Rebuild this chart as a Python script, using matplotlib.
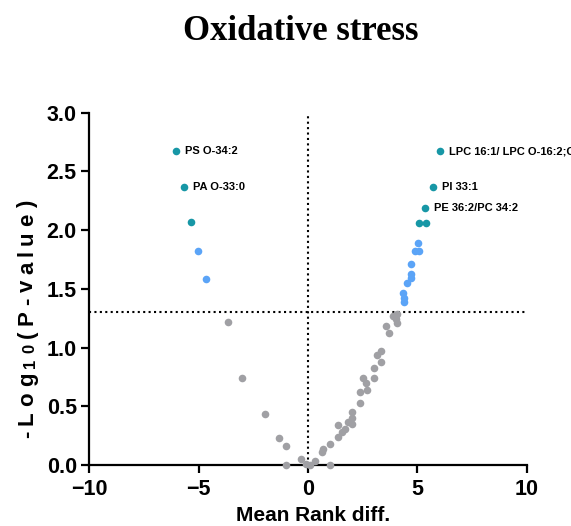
import matplotlib
matplotlib.use("Agg")
import matplotlib.pyplot as plt
import numpy as np

# Volcano plot data: mean rank difference vs -log10(p)
gray_x = [-3.66, -3.00, -1.98, -1.34, -0.99, -0.99, -0.33, -0.10, 0.08, 0.31,
          0.99, 0.66, 0.69, 0.99, 1.37, 1.37, 1.55, 1.68, 1.85, 2.03,
          2.03, 2.03, 2.36, 2.40, 2.52, 2.66, 2.70, 3.02, 3.02, 3.16,
          3.36, 3.36, 3.55, 3.70, 3.89, 4.01, 4.07, 4.03, 4.05]
gray_y = [1.22, 0.74, 0.43, 0.23, 0.16, 0.00, 0.05, 0.01, 0.00, 0.03,
          0.00, 0.11, 0.14, 0.18, 0.24, 0.34, 0.28, 0.31, 0.37, 0.45,
          0.35, 0.40, 0.53, 0.62, 0.74, 0.70, 0.64, 0.74, 0.83, 0.94,
          0.97, 0.88, 1.18, 1.12, 1.27, 1.28, 1.21, 1.24, 1.29]

blue_x = [-5.01, -4.68, 5.03, 4.88, 5.07, 4.73, 4.73, 4.70, 4.53, 4.34, 4.38, 4.38]
blue_y = [1.825, 1.587, 1.89, 1.822, 1.822, 1.71, 1.627, 1.59, 1.553, 1.463, 1.42, 1.39]

teal_x = [-6.02, -5.67, -5.33, 6.05, 5.72, 5.37, 5.06, 5.38]
teal_y = [2.67, 2.365, 2.067, 2.67, 2.365, 2.19, 2.064, 2.064]
teal_labels = ["PS O-34:2", "PA O-33:0", "", "LPC 16:1/ LPC O-16:2;O",
               "PI 33:1", "PE 36:2/PC 34:2", "", ""]

x_ticks = [-10, -5, 0, 5, 10]
y_ticks = [0.0, 0.5, 1.0, 1.5, 2.0, 2.5, 3.0]
p_threshold = 1.3

GRAY = "#A0A0A4"
BLUE = "#5BA4F7"
TEAL = "#1797A6"

plt.rcParams["font.family"] = ["Liberation Sans", "DejaVu Sans"]

fig = plt.figure(figsize=(5.71, 5.26), dpi=100)
ax = fig.add_axes([0.1564, 0.116, 0.766, 0.6697])

ax.set_xlim(-10, 10)
ax.set_ylim(0, 3)

dot = (0, (1, 1.6))
ax.axvline(0, color="black", lw=1.5, ls=dot, zorder=1)
ax.axhline(p_threshold, color="black", lw=1.5, ls=dot, zorder=1)

ms = 30
ax.scatter(gray_x, gray_y, s=ms, color=GRAY, lw=0, zorder=3, clip_on=False)
ax.scatter(blue_x, blue_y, s=ms, color=BLUE, lw=0, zorder=3, clip_on=False)
ax.scatter(teal_x, teal_y, s=ms, color=TEAL, lw=0, zorder=3, clip_on=False)

for x, y, lab in zip(teal_x, teal_y, teal_labels):
    if lab:
        ax.annotate(lab, (x, y), xytext=(6.5, 0), textcoords="offset points",
                    ha="left", va="center", fontsize=8, fontweight="bold",
                    color="black", annotation_clip=False, clip_on=False)

for side in ("top", "right"):
    ax.spines[side].set_visible(False)
for side in ("left", "bottom"):
    ax.spines[side].set_linewidth(1.6)

ax.set_xticks(x_ticks)
ax.set_yticks(y_ticks)
ax.set_yticklabels([f"{v:.1f}" for v in y_ticks])
ax.tick_params(axis="both", length=6, width=1.6, labelsize=15.5, pad=3)
ax.tick_params(axis="x", pad=4)
for t in ax.get_xticklabels() + ax.get_yticklabels():
    t.set_fontweight("bold")

# x axis title
fig.text(0.548, 0.010, "Mean Rank diff.", ha="center", va="baseline",
         fontsize=15, fontweight="bold")

# plot title
fig.text(0.527, 0.924, "Oxidative stress", ha="center", va="baseline",
         fontsize=25, fontweight="bold", family=["Liberation Serif", "DejaVu Serif"])

# letter-spaced rotated y axis title, built glyph by glyph
renderer = fig.canvas.get_renderer()
glyphs = [("-", 16, 0), ("L", 16, 0), ("o", 16, 0), ("g", 16, 0),
          ("1", 12, 1.5), ("0", 12, 1.5), ("(", 16, 0), ("P", 16, 0),
          ("-", 16, 0), ("v", 16, 0), ("a", 16, 0), ("l", 16, 0),
          ("u", 16, 0), ("e", 16, 0), (")", 16, 0)]
widths = []
for ch, size, _ in glyphs:
    t = fig.text(0, 0, ch, fontsize=size, fontweight="bold")
    widths.append(t.get_window_extent(renderer).width)
    t.remove()
gap = 5.5
W, H = fig.bbox.width, fig.bbox.height
total = sum(widths) + gap * (len(glyphs) - 1)
center_y = H - 319.0
base_x = 33.0
y = center_y - total / 2
for (ch, size, shift), w in zip(glyphs, widths):
    fig.text((base_x + shift) / W, y / H, ch, fontsize=size, fontweight="bold",
             rotation=90, rotation_mode="anchor", ha="left", va="baseline")
    y += w + gap

fig.savefig("out.png", dpi=100)
